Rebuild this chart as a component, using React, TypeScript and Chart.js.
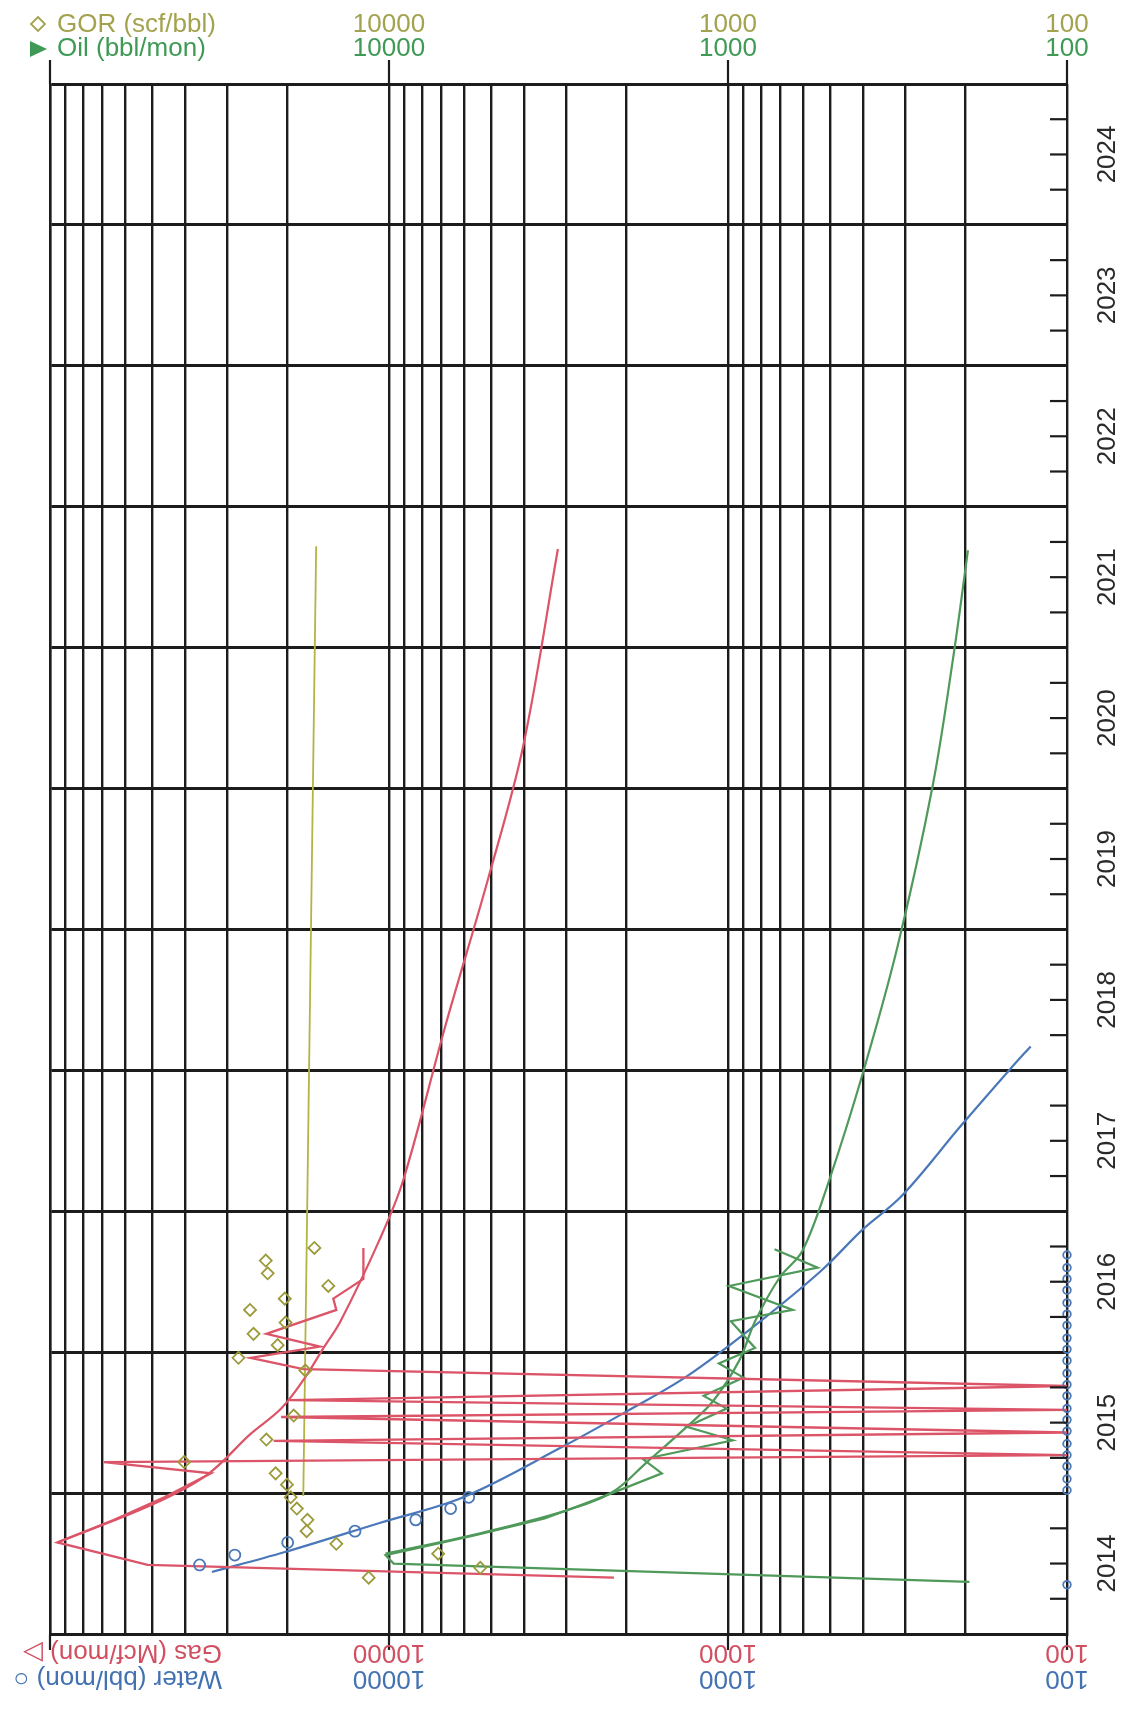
import { useEffect, useRef } from 'react';
import { Chart, registerables } from 'chart.js';

Chart.register(...registerables);

// ---- data (x = rate / ratio on log scale, y = time in years) ----
const gasTime = [2014.40, 2014.49, 2014.65, 2014.81, 2014.97, 2015.14, 2015.22, 2015.27, 2015.37, 2015.43, 2015.54, 2015.59, 2015.66, 2015.76, 2015.88, 2015.96, 2016.04, 2016.13, 2016.30, 2016.38, 2016.52, 2016.74];
const gasValue = [2170, 51500, 95100, 64700, 46000, 33500, 69300, 100, 21900, 100, 20800, 100, 19700, 100, 17900, 25600, 16000, 23000, 14300, 14600, 11900, 11900];

const gasFitTime = [2014.65, 2014.915, 2015.13, 2015.42, 2015.60, 2015.81, 2016.03, 2016.22, 2016.79, 2017.22, 2018.31, 2019.36, 2020.30, 2021.70];
const gasFitValue = [95100, 50300, 34400, 25600, 20800, 17800, 15600, 13900, 10700, 9080, 6830, 5100, 4020, 3175];

const oilTime = [2014.37, 2014.50, 2014.56, 2014.70, 2014.82, 2014.95, 2015.14, 2015.24, 2015.375, 2015.47, 2015.60, 2015.69, 2015.82, 2015.92, 2016.03, 2016.22, 2016.30, 2016.47, 2016.60, 2016.73];
const oilValue = [194, 9690, 10240, 5600, 3475, 2480, 1567, 1778, 968, 1324, 1009, 1180, 900, 1064, 832, 981, 644, 993, 544, 729];

const oilFitTime = [2014.57, 2014.715, 2014.87, 2015.01, 2015.22, 2015.47, 2015.65, 2015.94, 2016.22, 2016.53, 2016.72, 2017.22, 2017.99, 2018.88, 2020.02, 2020.95, 2021.69];
const oilFitValue = [10240, 5375, 3057, 2183, 1734, 1324, 1109, 927, 832, 704, 603, 503, 399, 316, 249, 216, 196];

const waterTime = [2014.35, 2014.49, 2014.56, 2014.65, 2014.73, 2014.81, 2014.89, 2014.97, 2015.02, 2015.10, 2015.19, 2015.27, 2015.35, 2015.44, 2015.52, 2015.60, 2015.69, 2015.77, 2015.85, 2015.94, 2016.02, 2016.10, 2016.19, 2016.27, 2016.35, 2016.44, 2016.52, 2016.60, 2016.69];
const waterValue = [100, 36200, 28500, 19900, 12600, 8340, 6580, 5820, 100, 100, 100, 100, 100, 100, 100, 100, 100, 100, 100, 100, 100, 100, 100, 100, 100, 100, 100, 100, 100];

const waterFitTime = [2014.44, 2014.58, 2014.79, 2014.97, 2015.33, 2015.58, 2015.83, 2016.19, 2016.58, 2016.87, 2017.11, 2017.61, 2018.01, 2018.17];
const waterFitValue = [33300, 20400, 10600, 6040, 3070, 1990, 1320, 832, 530, 401, 307, 205, 147, 128];

const gorTime = [2014.40, 2014.47, 2014.57, 2014.64, 2014.73, 2014.81, 2014.89, 2014.97, 2015.06, 2015.14, 2015.22, 2015.38, 2015.55, 2015.87, 2015.96, 2016.05, 2016.13, 2016.21, 2016.30, 2016.38, 2016.47, 2016.56, 2016.65, 2016.74];
const gorValue = [11480, 5380, 7160, 14300, 17500, 17400, 18700, 19500, 20000, 21600, 40200, 23000, 19100, 17650, 27800, 21300, 25100, 20200, 25700, 20300, 15100, 22800, 23100, 16600];

const gorFitTime = [2014.98, 2021.72];
const gorFitValue = [17900, 16400];

const yearLabels = [2014, 2015, 2016, 2017, 2018, 2019, 2020, 2021, 2022, 2023, 2024];
const axisLabelValues = [10000, 1000, 100];
const axisLabelTexts = ['10000', '1000', '100'];
const decadeValues = [100000, 10000, 1000, 100];

const RED = '#dc5468';
const GREEN = '#4f9a5a';
const BLUE = '#4a78b8';
const OLIVE = '#9c9a3a';
const OLIVE_LINE = '#b4b446';
const GRID = '#1c1c1c';
const FONT = '"Liberation Sans", Arial, sans-serif';

const pts = (times: number[], vals: number[]) => times.map((t, i) => ({ x: vals[i], y: t }));

const overlay = {
  id: 'overlay',
  afterDraw(chart: any) {
    const { ctx, chartArea, scales } = chart;
    const { right, top, bottom } = chartArea;
    const x = scales.x;
    const y = scales.y;
    ctx.save();
    ctx.strokeStyle = GRID;
    ctx.lineWidth = 2.2;
    const line = (x1: number, y1: number, x2: number, y2: number) => {
      ctx.beginPath();
      ctx.moveTo(x1, y1);
      ctx.lineTo(x2, y2);
      ctx.stroke();
    };
    // decade ticks outside top and bottom
    for (const v of decadeValues) {
      const px = x.getPixelForValue(v);
      line(px, top - 24, px, top);
      line(px, bottom, px, bottom + 16);
    }
    // quarter ticks on right axis
    for (const yr of yearLabels) {
      for (const q of [0.25, 0.5, 0.75]) {
        const py = y.getPixelForValue(yr + q);
        line(right - 17, py, right, py);
      }
    }
    // year labels
    ctx.fillStyle = '#2a2a2a';
    ctx.font = `26px ${FONT}`;
    ctx.textAlign = 'center';
    ctx.textBaseline = 'middle';
    for (const yr of yearLabels) {
      const py = y.getPixelForValue(yr + 0.5);
      ctx.save();
      ctx.translate(right + 41, py);
      ctx.rotate(-Math.PI / 2);
      ctx.fillText(String(yr), 0, 0);
      ctx.restore();
    }
    // top labels
    ctx.font = `26px ${FONT}`;
    axisLabelValues.forEach((v, i) => {
      const px = x.getPixelForValue(v);
      ctx.fillStyle = '#a3a24e';
      ctx.fillText(axisLabelTexts[i], px, 25);
      ctx.fillStyle = '#3f9a55';
      ctx.fillText(axisLabelTexts[i], px, 49);
    });
    ctx.textAlign = 'left';
    ctx.fillStyle = '#a3a24e';
    ctx.fillText('GOR (scf/bbl)', 57, 25);
    ctx.fillStyle = '#3f9a55';
    ctx.fillText('Oil (bbl/mon)', 57, 49);
    // legend symbols
    ctx.strokeStyle = '#a3a24e';
    ctx.lineWidth = 1.8;
    ctx.beginPath();
    ctx.moveTo(38, 17);
    ctx.lineTo(45, 24);
    ctx.lineTo(38, 31);
    ctx.lineTo(31, 24);
    ctx.closePath();
    ctx.stroke();
    ctx.fillStyle = '#3f9a55';
    ctx.beginPath();
    ctx.moveTo(30, 41);
    ctx.lineTo(47, 49);
    ctx.lineTo(30, 57);
    ctx.closePath();
    ctx.fill();
    // bottom labels (upside down)
    ctx.font = `26px ${FONT}`;
    ctx.textAlign = 'center';
    axisLabelValues.forEach((v, i) => {
      const px = x.getPixelForValue(v);
      ctx.save();
      ctx.translate(px, 1652);
      ctx.rotate(Math.PI);
      ctx.fillStyle = '#d05062';
      ctx.fillText(axisLabelTexts[i], 0, 0);
      ctx.restore();
      ctx.save();
      ctx.translate(px, 1678);
      ctx.rotate(Math.PI);
      ctx.fillStyle = '#4272b2';
      ctx.fillText(axisLabelTexts[i], 0, 0);
      ctx.restore();
    });
    ctx.textAlign = 'left';
    ctx.save();
    ctx.translate(222, 1652);
    ctx.rotate(Math.PI);
    ctx.fillStyle = '#d05062';
    ctx.fillText('Gas (Mcf/mon) \u25B7', 0, 0);
    ctx.restore();
    ctx.save();
    ctx.translate(222, 1678);
    ctx.rotate(Math.PI);
    ctx.fillStyle = '#4272b2';
    ctx.fillText('Water (bbl/mon) \u25CB', 0, 0);
    ctx.restore();
    ctx.restore();
  },
};

export default function App() {
  const ref = useRef<HTMLCanvasElement | null>(null);
  useEffect(() => {
    document.body.style.margin = '0';
    document.body.style.background = '#ffffff';
    if (!ref.current) return;
    const gridTicks: number[] = [];
    for (const d of [100, 1000, 10000]) {
      for (let m = 1; m < 10; m++) gridTicks.push(d * m);
    }
    gridTicks.push(100000);

    const chart = new Chart(ref.current, {
      type: 'scatter',
      data: {
        datasets: [
          {
            label: 'GOR',
            data: pts(gorTime, gorValue),
            showLine: false,
            pointStyle: 'rectRot',
            pointRadius: 6,
            pointBorderWidth: 1.8,
            pointBorderColor: OLIVE,
            pointBackgroundColor: 'rgba(0,0,0,0)',
          },
          {
            label: 'Water',
            data: pts(waterTime, waterValue),
            showLine: false,
            pointStyle: 'circle',
            pointRadius: (c: any) => (c.raw && c.raw.x <= 100 ? 3.8 : 5.5),
            pointBorderWidth: 1.8,
            pointBorderColor: BLUE,
            pointBackgroundColor: 'rgba(0,0,0,0)',
            clip: false,
          },
          {
            label: 'Gas',
            data: pts(gasTime, gasValue),
            showLine: true,
            borderColor: RED,
            borderWidth: 2.3,
            pointRadius: 0,
            tension: 0,
          },
          {
            label: 'Oil',
            data: pts(oilTime, oilValue),
            showLine: true,
            borderColor: GREEN,
            borderWidth: 2.2,
            pointRadius: 0,
            tension: 0,
          },
          {
            label: 'Gas fit',
            data: pts(gasFitTime, gasFitValue),
            showLine: true,
            borderColor: RED,
            borderWidth: 2.2,
            pointRadius: 0,
            tension: 0.35,
          },
          {
            label: 'Oil fit',
            data: pts(oilFitTime, oilFitValue),
            showLine: true,
            borderColor: GREEN,
            borderWidth: 2.2,
            pointRadius: 0,
            tension: 0.35,
          },
          {
            label: 'Water fit',
            data: pts(waterFitTime, waterFitValue),
            showLine: true,
            borderColor: BLUE,
            borderWidth: 2.2,
            pointRadius: 0,
            tension: 0.35,
          },
          {
            label: 'GOR fit',
            data: pts(gorFitTime, gorFitValue),
            showLine: true,
            borderColor: OLIVE_LINE,
            borderWidth: 1.8,
            pointRadius: 0,
            tension: 0,
          },
        ],
      },
      options: {
        responsive: false,
        animation: false,
        events: [],
        layout: { padding: { left: 50, right: 61, top: 84, bottom: 86 } },
        plugins: { legend: { display: false }, tooltip: { enabled: false } },
        scales: {
          x: {
            type: 'logarithmic',
            reverse: true,
            min: 100,
            max: 100000,
            afterBuildTicks: (s: any) => {
              s.ticks = gridTicks.map((v) => ({ value: v }));
            },
            afterFit: (s: any) => {
              s.height = 0;
            },
            ticks: { display: false },
            grid: { color: GRID, lineWidth: 2.4, drawTicks: false },
            border: { color: GRID, width: 3 },
          },
          y: {
            type: 'linear',
            min: 2014,
            max: 2025,
            afterBuildTicks: (s: any) => {
              const t: any[] = [];
              for (let v = 2014; v <= 2025; v++) t.push({ value: v });
              s.ticks = t;
            },
            afterFit: (s: any) => {
              s.width = 0;
            },
            ticks: { display: false },
            grid: { color: GRID, lineWidth: 3, drawTicks: false },
            border: { color: GRID, width: 2.4 },
          },
        },
      } as any,
      plugins: [overlay],
    });
    return () => chart.destroy();
  }, []);

  return (
    <div style={{ width: 1128, height: 1720, background: '#fff' }}>
      <canvas ref={ref} width={1128} height={1720} style={{ display: 'block' }} />
    </div>
  );
}
